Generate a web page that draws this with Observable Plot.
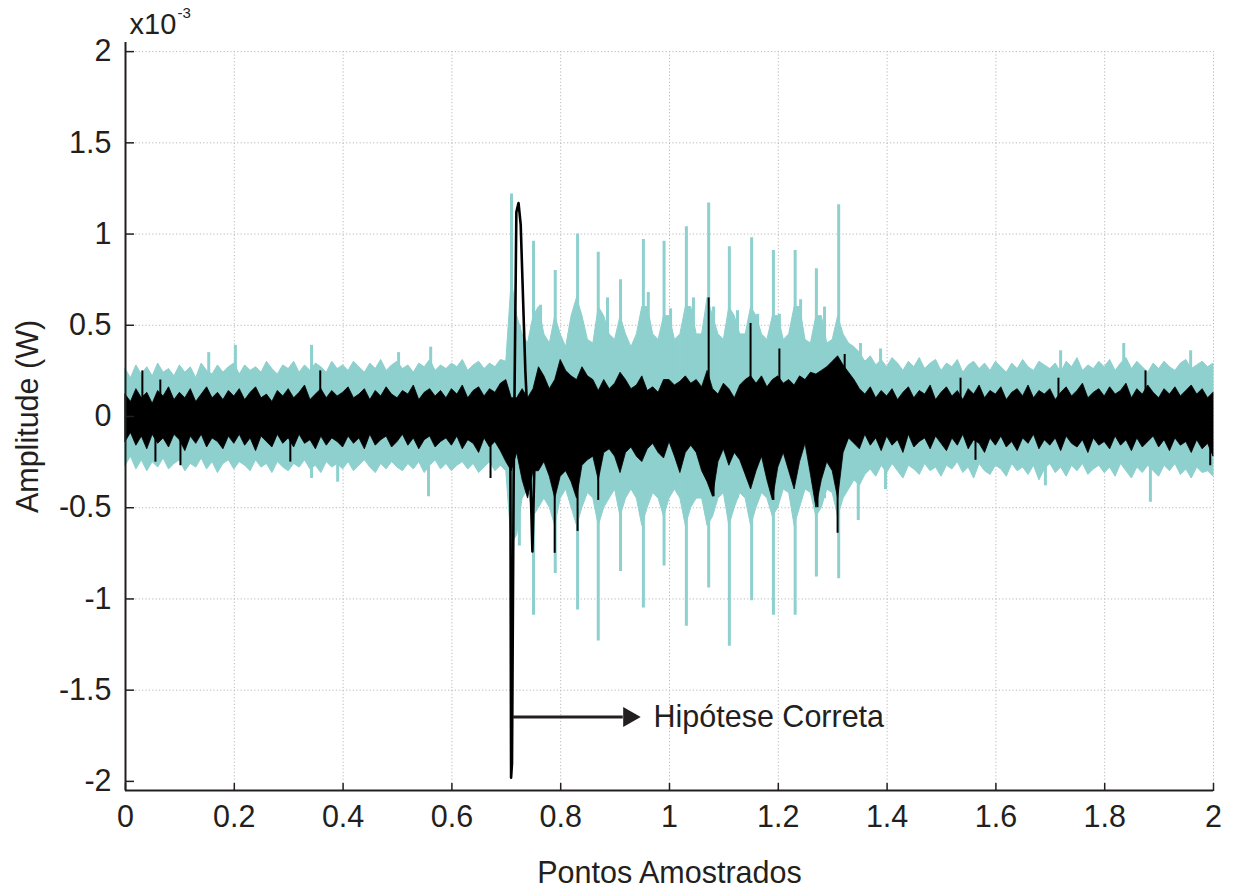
<!DOCTYPE html>
<html><head><meta charset="utf-8">
<script src="https://cdn.jsdelivr.net/npm/d3@7"></script>
<script src="https://cdn.jsdelivr.net/npm/@observablehq/plot@0.6"></script>
<style>
html,body{margin:0;padding:0;background:#fff;}
#chart{width:1234px;height:890px;}
</style></head><body><div id="chart"></div>
<script>
// sampled envelopes (x = index * sampleStep), values in units of 1e-3 W
const sampleStep = 0.01;
const cyanHi = [
0.26,0.21,0.28,0.23,0.27,0.22,0.29,0.24,0.26,0.22,
0.28,0.24,0.27,0.21,0.29,0.25,0.23,0.28,0.24,0.27,
0.29,0.23,0.28,0.25,0.27,0.24,0.30,0.26,0.23,0.28,
0.26,0.30,0.24,0.28,0.25,0.29,0.27,0.24,0.30,0.26,
0.28,0.25,0.30,0.27,0.24,0.29,0.26,0.31,0.25,0.28,
0.30,0.26,0.28,0.24,0.29,0.27,0.31,0.25,0.28,0.26,
0.29,0.27,0.31,0.25,0.28,0.30,0.26,0.29,0.27,0.31,
0.30,0.75,0.55,0.45,0.40,0.55,0.60,0.45,0.40,0.55,
0.45,0.38,0.55,0.65,0.55,0.42,0.40,0.60,0.55,0.45,
0.42,0.55,0.45,0.38,0.45,0.60,0.60,0.45,0.42,0.55,
0.55,0.42,0.45,0.60,0.60,0.45,0.45,0.65,0.55,0.45,
0.42,0.60,0.55,0.45,0.45,0.60,0.55,0.45,0.42,0.55,
0.55,0.42,0.45,0.60,0.60,0.42,0.40,0.55,0.55,0.40,
0.42,0.55,0.45,0.40,0.38,0.35,0.30,0.33,0.28,0.31,
0.27,0.32,0.29,0.25,0.30,0.27,0.32,0.26,0.29,0.31,
0.25,0.29,0.27,0.31,0.24,0.28,0.30,0.26,0.29,0.25,
0.30,0.27,0.24,0.29,0.26,0.31,0.27,0.25,0.30,0.28,
0.26,0.29,0.24,0.30,0.27,0.32,0.25,0.28,0.26,0.30,
0.27,0.31,0.25,0.29,0.32,0.26,0.30,0.27,0.24,0.29,
0.26,0.30,0.27,0.25,0.29,0.31,0.26,0.28,0.30,0.27,
0.29];
const cyanLo = [
-0.27,-0.22,-0.29,-0.24,-0.30,-0.25,-0.28,-0.23,-0.29,-0.26,
-0.24,-0.30,-0.26,-0.28,-0.23,-0.29,-0.25,-0.31,-0.26,-0.24,
-0.29,-0.25,-0.27,-0.30,-0.24,-0.28,-0.26,-0.31,-0.25,-0.28,
-0.30,-0.26,-0.28,-0.24,-0.29,-0.27,-0.31,-0.25,-0.28,-0.26,
-0.29,-0.25,-0.30,-0.27,-0.24,-0.28,-0.31,-0.26,-0.29,-0.25,
-0.28,-0.30,-0.26,-0.29,-0.25,-0.31,-0.27,-0.24,-0.29,-0.26,
-0.30,-0.27,-0.25,-0.29,-0.26,-0.31,-0.28,-0.25,-0.30,-0.27,
-0.30,-0.70,-0.65,-0.45,-0.40,-0.55,-0.50,-0.45,-0.50,-0.60,
-0.45,-0.40,-0.50,-0.60,-0.50,-0.42,-0.45,-0.60,-0.50,-0.45,
-0.40,-0.55,-0.45,-0.40,-0.45,-0.60,-0.50,-0.42,-0.45,-0.55,
-0.45,-0.40,-0.45,-0.60,-0.50,-0.45,-0.45,-0.60,-0.55,-0.45,
-0.42,-0.60,-0.50,-0.42,-0.45,-0.60,-0.50,-0.42,-0.45,-0.55,
-0.50,-0.40,-0.42,-0.60,-0.50,-0.40,-0.42,-0.55,-0.50,-0.40,
-0.42,-0.55,-0.45,-0.40,-0.35,-0.38,-0.32,-0.29,-0.33,-0.27,
-0.31,-0.26,-0.30,-0.34,-0.27,-0.29,-0.32,-0.26,-0.30,-0.28,
-0.33,-0.27,-0.29,-0.25,-0.31,-0.28,-0.34,-0.26,-0.30,-0.32,
-0.27,-0.29,-0.33,-0.26,-0.30,-0.28,-0.32,-0.27,-0.35,-0.29,
-0.26,-0.31,-0.28,-0.33,-0.27,-0.30,-0.26,-0.32,-0.29,-0.27,
-0.31,-0.28,-0.33,-0.26,-0.30,-0.34,-0.28,-0.31,-0.27,-0.30,
-0.33,-0.27,-0.30,-0.26,-0.32,-0.29,-0.34,-0.28,-0.31,-0.30,
-0.33];
const blackHi = [
0.12,0.08,0.15,0.10,0.13,0.07,0.14,0.11,0.16,0.09,
0.13,0.10,0.15,0.08,0.12,0.16,0.10,0.13,0.09,0.14,
0.11,0.15,0.09,0.13,0.16,0.10,0.12,0.08,0.14,0.11,
0.15,0.10,0.13,0.17,0.09,0.12,0.15,0.10,0.14,0.11,
0.13,0.16,0.10,0.12,0.15,0.09,0.14,0.11,0.16,0.12,
0.10,0.14,0.12,0.17,0.09,0.13,0.15,0.11,0.14,0.10,
0.15,0.12,0.17,0.10,0.14,0.16,0.11,0.15,0.13,0.18,
0.20,0.10,0.10,0.15,0.10,0.15,0.27,0.22,0.15,0.20,
0.31,0.25,0.22,0.20,0.27,0.22,0.20,0.14,0.20,0.15,
0.18,0.24,0.20,0.15,0.17,0.22,0.14,0.16,0.13,0.20,
0.20,0.17,0.19,0.22,0.18,0.20,0.16,0.25,0.15,0.12,
0.18,0.15,0.10,0.17,0.20,0.22,0.18,0.22,0.16,0.20,
0.22,0.18,0.20,0.17,0.22,0.20,0.24,0.23,0.25,0.27,
0.30,0.33,0.28,0.24,0.20,0.15,0.12,0.16,0.10,0.14,
0.11,0.15,0.09,0.13,0.16,0.10,0.14,0.12,0.17,0.09,
0.13,0.16,0.11,0.14,0.09,0.15,0.12,0.17,0.10,0.14,
0.12,0.16,0.09,0.13,0.15,0.11,0.17,0.10,0.14,0.12,
0.15,0.09,0.13,0.16,0.11,0.14,0.18,0.10,0.13,0.15,
0.11,0.16,0.12,0.14,0.18,0.10,0.15,0.12,0.17,0.13,
0.10,0.15,0.12,0.16,0.11,0.14,0.17,0.12,0.15,0.10,
0.13];
const blackLo = [
-0.14,-0.09,-0.16,-0.11,-0.18,-0.10,-0.15,-0.12,-0.17,-0.10,
-0.13,-0.19,-0.11,-0.15,-0.10,-0.17,-0.12,-0.14,-0.18,-0.11,
-0.15,-0.10,-0.16,-0.12,-0.19,-0.11,-0.14,-0.17,-0.10,-0.15,
-0.12,-0.17,-0.10,-0.15,-0.13,-0.18,-0.11,-0.16,-0.12,-0.14,
-0.17,-0.11,-0.15,-0.12,-0.18,-0.10,-0.16,-0.13,-0.11,-0.17,
-0.14,-0.10,-0.16,-0.12,-0.18,-0.13,-0.11,-0.17,-0.14,-0.12,
-0.16,-0.11,-0.18,-0.13,-0.15,-0.20,-0.12,-0.17,-0.14,-0.19,
-0.25,-0.30,-0.20,-0.35,-0.45,-0.30,-0.30,-0.25,-0.33,-0.45,
-0.33,-0.30,-0.36,-0.45,-0.27,-0.24,-0.22,-0.35,-0.20,-0.18,
-0.22,-0.31,-0.20,-0.17,-0.22,-0.25,-0.18,-0.15,-0.20,-0.23,
-0.14,-0.22,-0.31,-0.20,-0.16,-0.20,-0.30,-0.36,-0.44,-0.25,
-0.18,-0.27,-0.20,-0.24,-0.32,-0.40,-0.30,-0.22,-0.35,-0.46,
-0.28,-0.20,-0.30,-0.40,-0.25,-0.15,-0.32,-0.50,-0.35,-0.25,
-0.30,-0.45,-0.20,-0.12,-0.15,-0.18,-0.10,-0.16,-0.12,-0.19,
-0.11,-0.16,-0.13,-0.20,-0.10,-0.17,-0.14,-0.12,-0.18,-0.11,
-0.15,-0.19,-0.12,-0.16,-0.10,-0.18,-0.13,-0.15,-0.20,-0.12,
-0.16,-0.11,-0.17,-0.14,-0.19,-0.12,-0.15,-0.10,-0.18,-0.13,
-0.16,-0.12,-0.19,-0.11,-0.15,-0.17,-0.13,-0.20,-0.12,-0.16,
-0.14,-0.18,-0.11,-0.16,-0.13,-0.19,-0.12,-0.17,-0.14,-0.11,
-0.17,-0.13,-0.19,-0.12,-0.16,-0.14,-0.20,-0.13,-0.18,-0.15,
-0.22];

// isolated spikes (x, top, bottom)
const cyanSpikeX = [0.7096,0.724,0.750,0.763,0.790,0.831,0.869,0.886,0.910,0.952,0.961,0.990,1.002,1.031,1.044,1.072,1.081,1.110,1.125,1.151,1.162,1.191,1.202,1.231,1.241,1.270,1.285,1.311,
  0.153,0.202,0.342,0.502,0.561,1.351,1.388,1.719,1.835,1.958,
  0.342,0.390,0.557,1.347,1.397,1.691,1.884];
const cyanSpikeTop = [1.22,0.50,0.96,0.61,0.80,1.00,0.90,0.65,0.75,0.97,0.68,0.96,0.59,1.04,0.65,1.17,0.60,0.93,0.58,0.98,0.56,0.91,0.56,0.91,0.64,0.81,0.60,1.16,
  0.35,0.39,0.39,0.35,0.38,0.40,0.37,0.36,0.40,0.36,
  -0.15,-0.15,-0.15,-0.15,-0.15,-0.15,-0.15];
const cyanSpikeBottom = [-1.15,-0.71,-1.09,-0.40,-0.86,-1.06,-1.23,-0.40,-0.85,-1.05,-0.40,-0.82,-0.40,-1.15,-0.45,-0.94,-0.50,-1.26,-0.45,-1.01,-0.45,-1.09,-0.45,-1.09,-0.45,-0.88,-0.45,-0.89,
  0.15,0.15,0.15,0.15,0.15,0.15,0.15,0.15,0.15,0.15,
  -0.34,-0.36,-0.44,-0.57,-0.40,-0.38,-0.47];

const blackSpikeX = [0.031,0.064,0.358,1.535,1.715,1.875, 1.072,1.149,1.202,1.322,
  0.055,0.101,0.303,0.671,1.5625,1.994, 0.789,0.831,0.869,1.081,1.191,1.272,1.309];
const blackSpikeTop = [0.25,0.20,0.25,0.21,0.21,0.25, 0.65,0.51,0.37,0.34,
  -0.05,-0.05,-0.05,-0.05,-0.05,-0.05, 0,0,0,0,0,0,0];
const blackSpikeBottom = [0.05,0.05,0.05,0.05,0.05,0.05, 0,0,0,0,
  -0.25,-0.27,-0.25,-0.34,-0.24,-0.27, -0.75,-0.63,-0.46,-0.44,-0.46,-0.50,-0.64];

// main black transient (correct hypothesis)
const peakX = [0.700,0.7075,0.7088,0.7105,0.7135,0.7185,0.7225,0.7265,0.735,0.7445,0.748,0.753];
const peakY = [0.05,-0.25,-1.98,-1.90,-0.35,1.12,1.17,1.05,0.25,-0.35,-0.74,-0.10];

// annotation
const arrowX = [0.7132, 0.915];
const arrowHeadX = [0.9256];
const arrowY = -1.647;
const noteLabel = "Hipótese Correta";
const noteX = 0.9706;

const xTicks = [0,0.2,0.4,0.6,0.8,1,1.2,1.4,1.6,1.8,2];
const xTickLabels = ["0","0.2","0.4","0.6","0.8","1","1.2","1.4","1.6","1.8","2"];
const yTicks = [-2,-1.5,-1,-0.5,0,0.5,1,1.5,2];
const yTickLabels = ["-2","-1.5","-1","-0.5","0","0.5","1","1.5","2"];

const xLabel = "Pontos Amostrados";
const yLabel = "Amplitude (W)";
const expBase = "x10";
const expPow = "-3";

const cyan = "#8dd0ce";
const ink = "#231f20";
const font = "'Liberation Sans', Arial, Helvetica, sans-serif";
const fs = 30.5;

const bands = cyanHi.map((_, i) => ({x: i * sampleStep, cHi: cyanHi[i], cLo: cyanLo[i], bHi: blackHi[i], bLo: blackLo[i]}));
const cSpikes = cyanSpikeX.map((x, i) => ({x, y1: cyanSpikeBottom[i], y2: cyanSpikeTop[i]}));
const bSpikes = blackSpikeX.map((x, i) => ({x, y1: blackSpikeBottom[i], y2: blackSpikeTop[i]}));
const peak = peakX.map((x, i) => ({x, y: peakY[i]}));

const chart = Plot.plot({
  width: 1234, height: 890,
  marginLeft: 125, marginRight: 21, marginTop: 42, marginBottom: 100,
  style: {fontFamily: font, fontSize: fs + "px", color: ink, background: "#fff", overflow: "visible"},
  x: {domain: [0, 2], label: null},
  y: {domain: [-2.05, 2.05], label: null},
  marks: [
    Plot.ruleX(xTicks.slice(1), {y1: -2.05, y2: 2, stroke: "#b8b8b8", strokeWidth: 1, strokeDasharray: "1.2,2.2"}),
    Plot.ruleY(yTicks.slice(1), {x1: 0, x2: 2, stroke: "#b8b8b8", strokeWidth: 1, strokeDasharray: "1.2,2.2"}),
    Plot.areaY(bands, {x: "x", y1: "cLo", y2: "cHi", fill: cyan, stroke: cyan, strokeWidth: 1}),
    Plot.ruleX(cSpikes, {x: "x", y1: "y1", y2: "y2", stroke: cyan, strokeWidth: 3}),
    Plot.areaY(bands, {x: "x", y1: "bLo", y2: "bHi", fill: "#000", stroke: "#000", strokeWidth: 0.8}),
    Plot.ruleX(bSpikes, {x: "x", y1: "y1", y2: "y2", stroke: "#000", strokeWidth: 2}),
    Plot.line(peak, {x: "x", y: "y", stroke: "#000", strokeWidth: 2.6}),
    // axes
    Plot.ruleY([-2.05], {x1: 0, x2: 2, stroke: ink, strokeWidth: 2}),
    Plot.ruleX([0], {y1: -2.05, y2: 2.05, stroke: ink, strokeWidth: 2}),
    Plot.axisX(xTicks, {anchor: "top", frameAnchor: "bottom", tickSize: 8, tickFormat: () => "", stroke: ink, strokeWidth: 1.5, label: null}),
    Plot.axisY(yTicks, {anchor: "right", frameAnchor: "left", tickSize: 8, tickFormat: () => "", stroke: ink, strokeWidth: 1.5, label: null}),
    Plot.axisX(xTicks, {anchor: "bottom", tickSize: 0, tickPadding: 15, tickFormat: d => xTickLabels[xTicks.indexOf(d)], fontSize: fs, fill: ink, label: null}),
    Plot.axisY(yTicks, {anchor: "left", tickSize: 0, tickPadding: 14, tickFormat: d => yTickLabels[yTicks.indexOf(d)], fontSize: fs, fill: ink, label: null}),
    Plot.text([xLabel], {frameAnchor: "bottom", dy: 83, textAnchor: "middle", lineAnchor: "middle", fontSize: fs, fill: ink}),
    Plot.text([yLabel], {frameAnchor: "left", dx: -97, rotate: -90, textAnchor: "middle", lineAnchor: "middle", fontSize: fs, fill: ink}),
    Plot.text([expBase], {frameAnchor: "top-left", dx: 4, dy: -18, textAnchor: "start", lineAnchor: "middle", fontSize: 29, fill: ink}),
    Plot.text([expPow], {frameAnchor: "top-left", dx: 52, dy: -29, textAnchor: "start", lineAnchor: "middle", fontSize: 15, fill: ink}),
    // annotation arrow
    Plot.ruleY([arrowY], {x1: arrowX[0], x2: arrowX[1], stroke: ink, strokeWidth: 3}),
    Plot.dot(arrowHeadX, {x: d => d, y: arrowY, symbol: "triangle", r: 7.5, rotate: 90, fill: ink, stroke: "none"}),
    Plot.text([noteLabel], {x: noteX, y: arrowY, textAnchor: "start", lineAnchor: "middle", fontSize: fs, fill: ink})
  ]
});
document.getElementById("chart").appendChild(chart);
</script>
</body></html>
